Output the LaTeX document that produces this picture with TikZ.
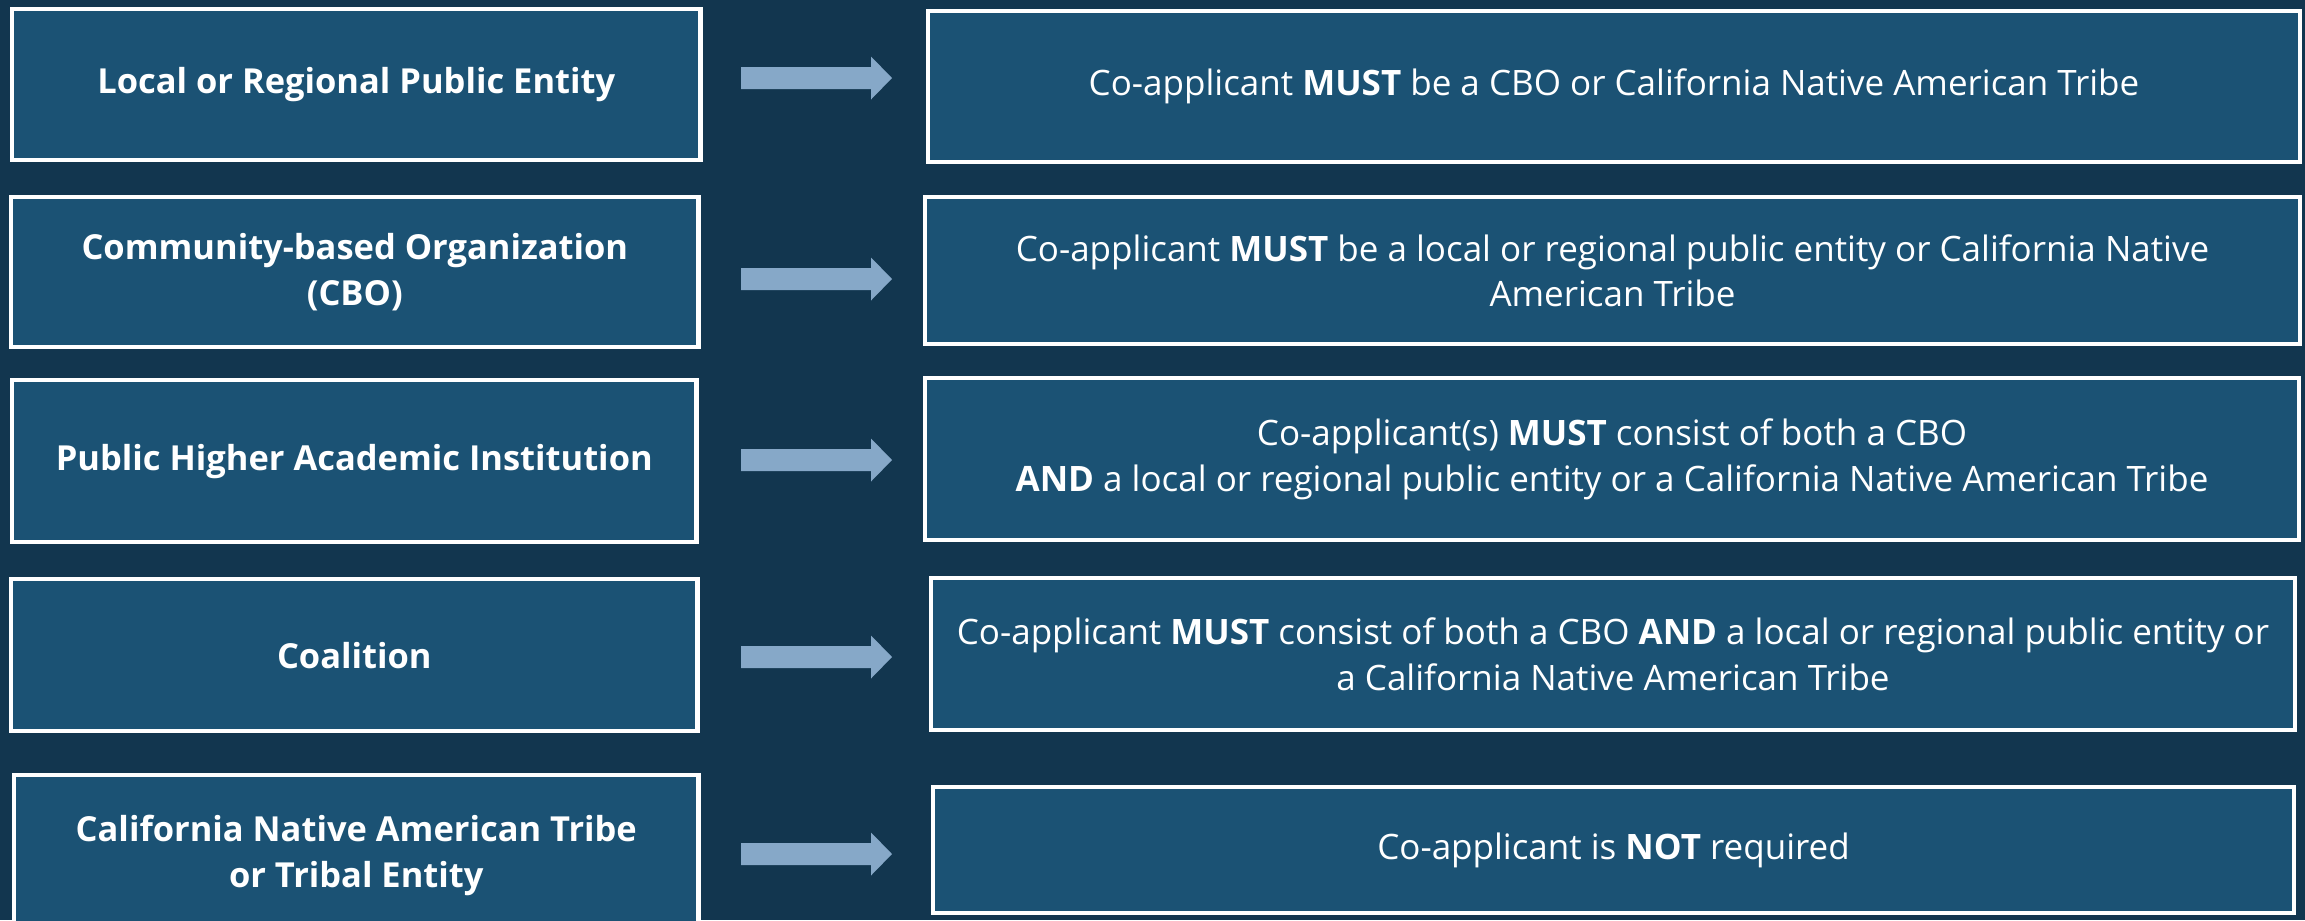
\documentclass[tikz,border=0pt]{standalone}
\usepackage{fontspec}
\setmainfont{Open Sans}
\usetikzlibrary{positioning, calc}

\definecolor{bgnavy}{HTML}{12364F}
\definecolor{boxblue}{HTML}{1B5274}
\definecolor{arrowblue}{HTML}{86A8C8}

\tikzset{
  panel/.style={draw=white, line width=1.2pt, fill=boxblue, text=white,
    align=center, inner sep=0pt, anchor=north west},
  entity/.style={panel, font=\bfseries\fontsize{9.8}{13}\selectfont},
  rulebox/.style={panel, font=\fontsize{9.95}{13}\selectfont},
  blockarrow/.style={fill=arrowblue}
}

\begin{document}
\begin{tikzpicture}[x=0.01cm, y=-0.01cm]
\fill[bgnavy] (0,0) rectangle (2305,920);
\useasboundingbox (0,0) rectangle (2305,920);
\clip (0,0) rectangle (2305,920);

% applicant types
\node[entity, minimum width=6.88cm, minimum height=1.51cm] (local) at (10,7) {Local or Regional Public Entity};
\node[entity, minimum width=6.87cm, minimum height=1.50cm] (cbo) at (9,195) {Community-based Organization\\(CBO)};
\node[entity, minimum width=6.84cm, minimum height=1.62cm] (academic) at (10,378) {Public Higher Academic Institution};
\node[entity, minimum width=6.86cm, minimum height=1.52cm] (coalition) at (9,577) {Coalition};
\node[entity, minimum width=6.84cm, minimum height=1.60cm] (tribe) at (12,773) {California Native American Tribe\\or Tribal Entity};

% co-applicant rules
\node[rulebox, minimum width=13.71cm, minimum height=1.51cm] (localrule) at (926,9) {Co-applicant \textbf{MUST} be a CBO or California Native American Tribe};
\node[rulebox, minimum width=13.74cm, minimum height=1.47cm] (cborule) at (923,195) {Co-applicant \textbf{MUST} be a local or regional public entity or California Native\\American Tribe};
\node[rulebox, minimum width=13.73cm, minimum height=1.62cm] (academicrule) at (923,376) {Co-applicant(s) \textbf{MUST} consist of both a CBO\\\textbf{AND} a local or regional public entity or a California Native American Tribe};
\node[rulebox, minimum width=13.63cm, minimum height=1.52cm] (coalitionrule) at (929,576) {Co-applicant \textbf{MUST} consist of both a CBO \textbf{AND} a local or regional public entity or\\a California Native American Tribe};
\node[rulebox, minimum width=13.60cm, minimum height=1.26cm] (triberule) at (931,785) {Co-applicant is \textbf{NOT} required};

% arrows
\coordinate (a1) at (741,78);
\coordinate (a2) at (741,279);
\coordinate (a3) at (741,460);
\coordinate (a4) at (741,657);
\coordinate (a5) at (741,854);
\foreach \a in {a1,a2,a3,a4,a5}
  \fill[blockarrow] (\a) ++(0,-11) -- ++(130,0) -- ++(0,-10.5) -- ++(21,21.5)
    -- ++(-21,21.5) -- ++(0,-10.5) -- ++(-130,0) -- cycle;

\end{tikzpicture}
\end{document}
